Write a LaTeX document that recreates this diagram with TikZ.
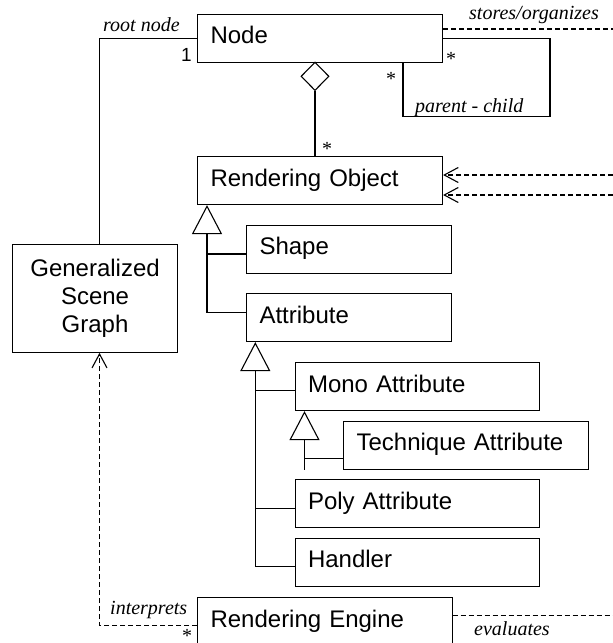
\documentclass[tikz,border=0pt]{standalone}
\usepackage{fontspec}
\setmainfont{Liberation Sans}
\newfontfamily\lserif{Liberation Serif}
\usetikzlibrary{arrows.meta,shapes.geometric}
\tikzset{
  boxbase/.style={draw, line width=1.1pt, rectangle, anchor=north west, inner xsep=13pt, inner ysep=0pt,
    font=\fontsize{24}{28}\selectfont, minimum height=48pt},
  cls/.style={boxbase, align=left, text height=17pt, text depth=6pt},
  lbl/.style={font=\fontsize{20}{22}\selectfont\lserif\itshape, inner sep=0pt},
  mult/.style={font=\fontsize{20}{22}\selectfont\lserif, inner sep=0pt, anchor=base},
  conn/.style={line width=1.1pt},
  dep/.style={line width=1.1pt, dash pattern=on 5pt off 3pt},
  gen/.style={line width=1.1pt, -{Triangle[open, length=29pt, width=30pt]}},
  dpa/.style={dep, -{Straight Barb[length=14pt, width=15pt]}}
}
\begin{document}
\begin{tikzpicture}[x=1pt,y=1pt]
\useasboundingbox (0,0) rectangle (613,-643);
% classes
\node[cls, text width=219pt] (Node) at (197,-13.5) {Node};
\node[cls, text width=219pt] (RO) at (197,-156) {Rendering Object};
\node[cls, text width=179pt] (Shape) at (246,-224.5) {Shape};
\node[cls, text width=179pt] (Attribute) at (246,-293) {Attribute};
\node[cls, text width=218pt] (Mono) at (294.5,-362) {Mono Attribute};
\node[cls, text width=219pt] (Technique) at (343,-420.5) {Technique Attribute};
\node[cls, text width=218pt] (Poly) at (294.5,-479) {Poly Attribute};
\node[cls, text width=218pt] (Handler) at (294.5,-537.5) {Handler};
\node[cls, text width=228.5pt] (RE) at (197,-597) {Rendering Engine};
\node[boxbase, align=center, text width=139.6pt, minimum height=107.4pt] (GSG) at (11.7,-244.3) {Generalized\\Scene\\Graph};
% root node association
\coordinate (rootx) at (99.5,0);
\draw[conn] (Node.west) -| (rootx |- GSG.north);
% aggregation
\node[draw, diamond, line width=1.1pt, minimum width=28pt, minimum height=28.5pt, inner sep=0pt, anchor=north, fill=white] (agg) at (315,-61.5) {};
\draw[conn] (agg.south) -- (agg.south |- RO.north);
% self loop
\coordinate (loopr) at (550,-116.7);
\coordinate (loopl) at (403,0);
\draw[conn] (Node.east) -| (loopr) -| (loopl |- Node.south);
% stores/organizes
\coordinate (storesend) at (613,-29);
\draw[dep] (Node.east |- storesend) -- (storesend);
% dependencies into Rendering Object
\coordinate (ro1) at (613,-175);
\coordinate (ro2) at (613,-195);
\draw[dpa] (ro1) -- (RO.east |- ro1);
\draw[dpa] (ro2) -- (RO.east |- ro2);
% generalization RO
\coordinate (g1) at (207,0);
\coordinate (attrb) at (0,-312.3);
\coordinate (shpb) at (0,-254);
\draw[gen] (Attribute.west |- attrb) -| (g1 |- RO.south);
\draw[conn] (Shape.west |- shpb) -- (g1 |- shpb);
% generalization Attribute
\coordinate (g2) at (255.3,0);
\coordinate (hb) at (0,-566.7);
\coordinate (mb) at (0,-390.7);
\coordinate (pb) at (0,-508.3);
\draw[gen] (Handler.west |- hb) -| (g2 |- Attribute.south);
\draw[conn] (Mono.west |- mb) -- (g2 |- mb);
\draw[conn] (Poly.west |- pb) -- (g2 |- pb);
% generalization Mono
\coordinate (g3) at (304.5,0);
\coordinate (tb) at (0,-458.7);
\draw[gen] (g3 |- Technique.south) -- (g3 |- Mono.south);
\draw[conn] (Technique.west |- tb) -- (g3 |- tb);
% interprets
\coordinate (ib) at (0,-625.7);
\coordinate (ix) at (99.5,0);
\draw[dpa] (RE.west |- ib) -| (ix |- GSG.south);
% evaluates
\coordinate (evend) at (613,-615.7);
\draw[dep] (RE.east |- evend) -- (evend);
% labels
\node[lbl, anchor=base west] (lroot) at (103,-31) {root node};
\node[font=\fontsize{19}{20}\selectfont, inner sep=0pt, anchor=base east] (m1) at (192,-61.5) {1};
\node[mult] (m2) at (327,-155) {*};
\node[mult] (m3) at (451,-65) {*};
\node[mult] (m4) at (391,-85) {*};
\node[mult] (m5) at (187,-642) {*};
\node[lbl, anchor=base west] (lpc) at (415,-112) {parent - child};
\node[lbl, anchor=base east] (lstores) at (599,-19) {stores/organizes};
\node[lbl, anchor=base west] (linterp) at (110,-614) {interprets};
\node[lbl, anchor=base west] (leval) at (474,-635) {evaluates};
\end{tikzpicture}
\end{document}
